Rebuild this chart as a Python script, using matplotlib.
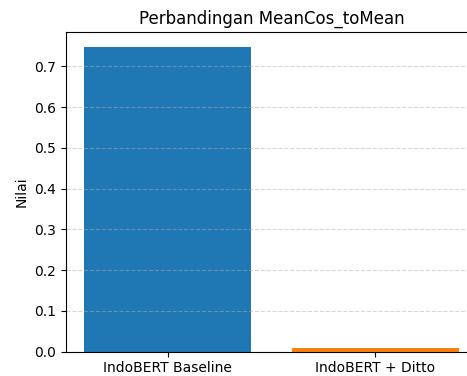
import matplotlib
matplotlib.use("Agg")
import matplotlib.pyplot as plt

categories = ["IndoBERT Baseline", "IndoBERT + Ditto"]
values = [0.747, 0.0085]
colors = ["#1f77b4", "#ff7f0e"]

fig = plt.figure(figsize=(4.67, 3.76), dpi=100)
W, H = 467, 376
left, right, top, bottom = 65.6, 477.4, 32, 351.7
ax = fig.add_axes([left / W, (H - bottom) / H, (right - left) / W, (bottom - top) / H])
ax.bar(categories, values, color=colors)
ax.set_title("Perbandingan MeanCos_toMean")
ax.set_ylabel("Nilai")
ax.grid(axis="y", linestyle="--", alpha=0.5)
ax.set_yticks([0.0, 0.1, 0.2, 0.3, 0.4, 0.5, 0.6, 0.7])
fig.savefig("out.png", dpi=100)
